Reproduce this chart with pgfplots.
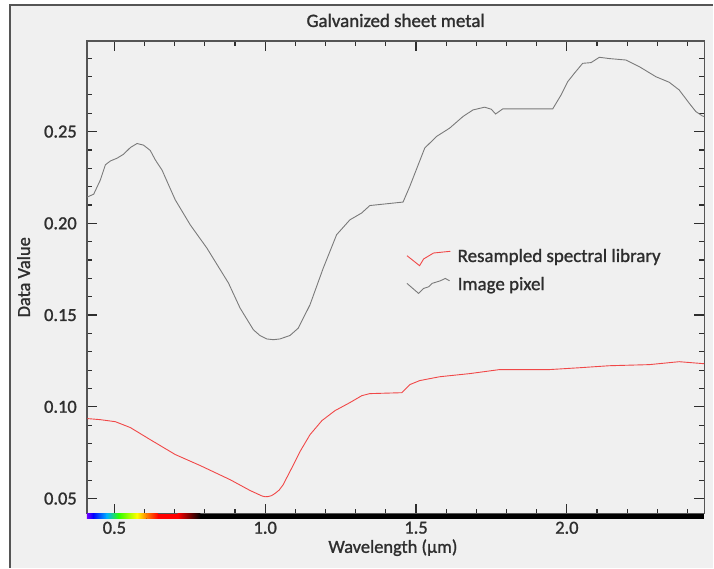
\documentclass[border=0pt]{standalone}
\usepackage{pgfplots}
\pgfplotsset{compat=1.18}
\usepackage{fontspec}
\setmainfont{Carlito}[UprightFeatures={FakeBold=1.2}]
\definecolor{bg}{HTML}{F0F0F0}
\definecolor{framec}{HTML}{555555}
\definecolor{txt}{HTML}{2E2E2E}
\definecolor{specred}{HTML}{F04848}
\definecolor{specgray}{HTML}{7A7A7A}
\definecolor{sviolet}{HTML}{7000FF}
\definecolor{sblue}{HTML}{0000FF}
\definecolor{scyan}{HTML}{00B0FF}
\definecolor{sgreen}{HTML}{30FF00}
\definecolor{syellow}{HTML}{FFFF00}
\definecolor{sorange}{HTML}{FF8000}
\definecolor{sred}{HTML}{FF0000}

\pgfplotstableread{
x y
0.4097 0.2143
0.4315 0.2159
0.4537 0.2237
0.4702 0.2319
0.4868 0.2340
0.5089 0.2355
0.5308 0.2377
0.5529 0.2413
0.5751 0.2435
0.5969 0.2426
0.6191 0.2397
0.6356 0.2346
0.6578 0.2291
0.6796 0.2210
0.7018 0.2128
0.7183 0.2083
0.7514 0.1992
0.8067 0.1865
0.8781 0.1675
0.9168 0.1538
0.9608 0.1420
0.9830 0.1388
1.0051 0.1370
1.0271 0.1366
1.0491 0.1370
1.0822 0.1389
1.1097 0.1429
1.1484 0.1556
1.1924 0.1756
1.2367 0.1938
1.2807 0.2019
1.3194 0.2056
1.3469 0.2097
1.4570 0.2116
1.4792 0.2201
1.5288 0.2410
1.5675 0.2473
1.6115 0.2519
1.6555 0.2582
1.6886 0.2618
1.7273 0.2633
1.7494 0.2622
1.7637 0.2596
1.7878 0.2624
1.9532 0.2624
1.9810 0.2700
2.0028 0.2772
2.0250 0.2818
2.0524 0.2872
2.0802 0.2876
2.1077 0.2905
2.1408 0.2898
2.1960 0.2890
2.2400 0.2854
2.2952 0.2799
2.3392 0.2769
2.3723 0.2727
2.4054 0.2655
2.4276 0.2609
2.4494 0.2585
2.4550 0.2582
}\pixel

\pgfplotstableread{
x y
0.4107 0.0936
0.4537 0.0930
0.5033 0.0919
0.5529 0.0887
0.6191 0.0821
0.7018 0.0740
0.7845 0.0680
0.8837 0.0603
0.9499 0.0544
0.9750 0.0525
0.9896 0.0514
1.0000 0.0510
1.0094 0.0511
1.0210 0.0516
1.0326 0.0528
1.0460 0.0546
1.0590 0.0574
1.0888 0.0669
1.1153 0.0756
1.1484 0.0848
1.1881 0.0925
1.2311 0.0979
1.2807 0.1023
1.3204 0.1061
1.3469 0.1072
1.4527 0.1077
1.4792 0.1121
1.5122 0.1143
1.5784 0.1164
1.6776 0.1181
1.7769 0.1203
1.9423 0.1203
2.0415 0.1213
2.1408 0.1224
2.2731 0.1230
2.3723 0.1246
2.4550 0.1235
}\library

\begin{document}
\begin{tikzpicture}[x=1bp,y=1bp]
\fill[white] (-87,-54) rectangle (627,514);
\fill[bg] (-77,-54) rectangle (627,509);
\draw[framec,line width=1.2bp] (-77,-54) -- (-77,509) -- (627,509);
\begin{axis}[
  at={(0,0)}, anchor=south west,
  scale only axis, width=618bp, height=473bp,
  xmin=0.409, xmax=2.456, ymin=0.04183, ymax=0.2994,
  clip=false,
  axis line style={framec, line width=1.6bp},
  tick pos=both, tick align=inside,
  major tick length=10bp, minor tick length=5bp,
  every tick/.style={txt, line width=1.2bp},
  xtick={0.5,1.0,1.5,2.0},
  minor xtick={0.6,0.7,0.8,0.9,1.1,1.2,1.3,1.4,1.6,1.7,1.8,1.9,2.1,2.2,2.3,2.4},
  ytick={0.05,0.10,0.15,0.20,0.25},
  minor ytick={0.06,0.07,0.08,0.09,0.11,0.12,0.13,0.14,0.16,0.17,0.18,0.19,0.21,0.22,0.23,0.24,0.26,0.27,0.28,0.29},
  x tick label style={/pgf/number format/fixed, /pgf/number format/fixed zerofill, /pgf/number format/precision=1, /pgf/number format/assume math mode=true},
  y tick label style={/pgf/number format/fixed, /pgf/number format/fixed zerofill, /pgf/number format/precision=2, /pgf/number format/assume math mode=true},
  tick label style={font=\fontsize{18.5}{20}\selectfont, text=txt},
  yticklabel style={anchor=east, inner sep=0pt, xshift=-10bp},
  xticklabel style={anchor=north, inner sep=0pt, yshift=-8bp},
  title={Galvanized sheet metal},
  title style={at={(axis description cs:0.5,1)}, anchor=base, yshift=8bp, font=\fontsize{19}{20}\selectfont, text=txt, inner sep=0pt},
  xlabel={Wavelength (µm)},
  xlabel style={at={(axis description cs:0.5,0)}, anchor=base, yshift=-39.3bp, xshift=-2.7bp, font=\fontsize{18.5}{20}\selectfont, text=txt, inner sep=0pt},
  ylabel={Data Value},
  ylabel style={at={(axis description cs:0,0.5)}, anchor=base, yshift=57bp, font=\fontsize{18.5}{20}\selectfont, text=txt, inner sep=0pt},
  legend style={at={(rel axis cs:0.5173,0.5602)}, anchor=north west, draw=none, fill=none, inner sep=0pt,
    font=\fontsize{19}{20}\selectfont, text=txt, row sep=11bp,
    nodes={inner sep=0pt, text height=13bp, text depth=4bp},
    /tikz/every odd column/.append style={column sep=7bp}},
  legend cell align=left,
]
\addplot[specred, line width=0.9bp,
  legend image code/.code={\draw[specred,line width=0.9bp] (0bp,1.8bp) -- (12.6bp,-8.2bp) -- (16.6bp,-1.5bp) -- (26.6bp,4.5bp) -- (43.3bp,6.2bp);}
] table[x=x,y=y] {\library};
\addlegendentry{Resampled spectral library}
\addplot[specgray, line width=0.9bp,
  legend image code/.code={\draw[specgray,line width=0.9bp] (0bp,2.2bp) -- (11.6bp,-7.8bp) -- (16.6bp,-2.8bp) -- (21.6bp,-1.2bp) -- (25bp,2.2bp) -- (30bp,3.8bp) -- (33.3bp,4.8bp) -- (38.3bp,7.2bp) -- (42.6bp,4.8bp);}
] table[x=x,y=y] {\pixel};
\addlegendentry{Image pixel}
% wavelength colour bar
\fill[black] (rel axis cs:0,0) rectangle ([yshift=-5bp]rel axis cs:1,0);
\fill[left color=sviolet,right color=sblue] (axis cs:0.409,0.04183) rectangle ([yshift=-5bp]axis cs:0.43,0.04183);
\fill[left color=sblue,right color=scyan] (axis cs:0.4295,0.04183) rectangle ([yshift=-5bp]axis cs:0.475,0.04183);
\fill[left color=scyan,right color=sgreen] (axis cs:0.4745,0.04183) rectangle ([yshift=-5bp]axis cs:0.515,0.04183);
\fill[left color=sgreen,right color=syellow] (axis cs:0.5145,0.04183) rectangle ([yshift=-5bp]axis cs:0.575,0.04183);
\fill[left color=syellow,right color=sorange] (axis cs:0.5745,0.04183) rectangle ([yshift=-5bp]axis cs:0.607,0.04183);
\fill[left color=sorange,right color=sred] (axis cs:0.6065,0.04183) rectangle ([yshift=-5bp]axis cs:0.645,0.04183);
\fill[sred] (axis cs:0.6445,0.04183) rectangle ([yshift=-5bp]axis cs:0.71,0.04183);
\fill[left color=sred,right color=black] (axis cs:0.7095,0.04183) rectangle ([yshift=-5bp]axis cs:0.785,0.04183);
\end{axis}
\end{tikzpicture}
\end{document}
